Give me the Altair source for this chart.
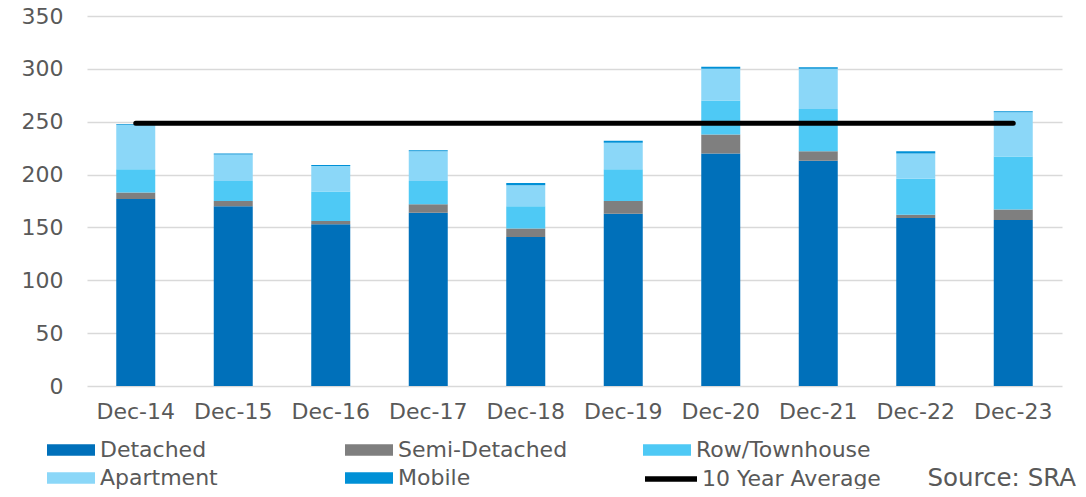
import altair as alt
import pandas as pd

categories = ["Dec-14", "Dec-15", "Dec-16", "Dec-17", "Dec-18",
              "Dec-19", "Dec-20", "Dec-21", "Dec-22", "Dec-23"]
detached = [177, 170, 153, 164, 141, 163, 220, 213, 159, 157]
semi_detached = [6, 5, 3, 8, 8, 12, 18, 9, 3, 10]
row_townhouse = [22, 19, 28, 22, 21, 30, 32, 40, 34, 50]
apartment = [42, 25, 24, 28, 20, 25, 30, 38, 24, 42]
mobile = [0.5, 1, 1, 1, 2, 2, 2, 1.5, 2, 1]
ten_year_average = 248.5

types = ["Detached", "Semi-Detached", "Row/Townhouse", "Apartment", "Mobile"]
colors = ["#0070BA", "#7F7F7F", "#4EC9F5", "#8BD7F8", "#0090D6"]
series = [detached, semi_detached, row_townhouse, apartment, mobile]

rows = []
for ti, (t, vals) in enumerate(zip(types, series)):
    for c, v in zip(categories, vals):
        rows.append({"cat": c, "type": t, "value": v, "order": ti})
df = pd.DataFrame(rows)

avg_df = pd.DataFrame([{"start": categories[0], "end": categories[-1],
                        "avg": ten_year_average, "label": "10 Year Average"}])

FONT = "DejaVu Sans"
TXT = "#595959"

xscale = alt.Scale(domain=categories, paddingInner=0.6, paddingOuter=0.3)

bars = alt.Chart(df).mark_bar().encode(
    x=alt.X("cat:N", scale=xscale, sort=categories,
            axis=alt.Axis(title=None, labelAngle=0, domain=False, ticks=False,
                          labelFontSize=22, labelColor=TXT, labelFont=FONT,
                          labelPadding=15)),
    y=alt.Y("value:Q", stack="zero",
            scale=alt.Scale(domain=[0, 350], nice=False),
            axis=alt.Axis(title=None, values=[0, 50, 100, 150, 200, 250, 300, 350],
                          domain=False, ticks=False, labelFontSize=22,
                          labelColor=TXT, labelFont=FONT, labelPadding=24,
                          gridColor="#D9D9D9", gridWidth=1.5)),
    color=alt.Color("type:N", sort=types,
                    scale=alt.Scale(domain=types, range=colors),
                    legend=alt.Legend(title=None, orient="none", legendX=-27, legendY=423,
                                      direction="horizontal",
                                      columns=3, gridAlign="all", columnPadding=70,
                                      rowPadding=6, labelLimit=400,
                                      symbolType="M-4,-0.95H4V0.95H-4Z",
                                      symbolSize=144, symbolStrokeWidth=0,
                                      labelFontSize=22, labelFont=FONT,
                                      labelColor=TXT, labelOffset=18)),
    order=alt.Order("order:Q", sort="ascending"),
)

rule = alt.Chart(avg_df).mark_rule(color="black", strokeWidth=5, strokeCap="round").encode(
    x=alt.X("start:N", scale=xscale, sort=categories),
    x2="end:N",
    y="avg:Q",
    strokeDash=alt.StrokeDash("label:N", scale=alt.Scale(range=[[1, 0]]),
                              legend=alt.Legend(title=None, orient="none",
                                                legendX=555, legendY=434,
                                                labelLimit=400,
                                                symbolType="stroke", symbolSize=2704,
                                                symbolStrokeColor="black",
                                                symbolStrokeWidth=5.5,
                                                labelFontSize=22, labelFont=FONT,
                                                labelColor=TXT, labelOffset=2)),
)

source = alt.Chart(avg_df).mark_text(
    text="Source: SRA", align="right", baseline="alphabetic", fontSize=24.5,
    font=FONT, color=TXT
).encode(x=alt.value(989), y=alt.value(470))

chart = alt.layer(bars, rule, source).properties(
    width=975, height=370,
    autosize=alt.AutoSizeParams(type="none"),
    padding={"left": 79, "top": 8, "right": 16, "bottom": 103},
    background="white",
).configure_view(stroke=None)

chart.save("out.html", embed_options={"renderer": "svg", "actions": False})
